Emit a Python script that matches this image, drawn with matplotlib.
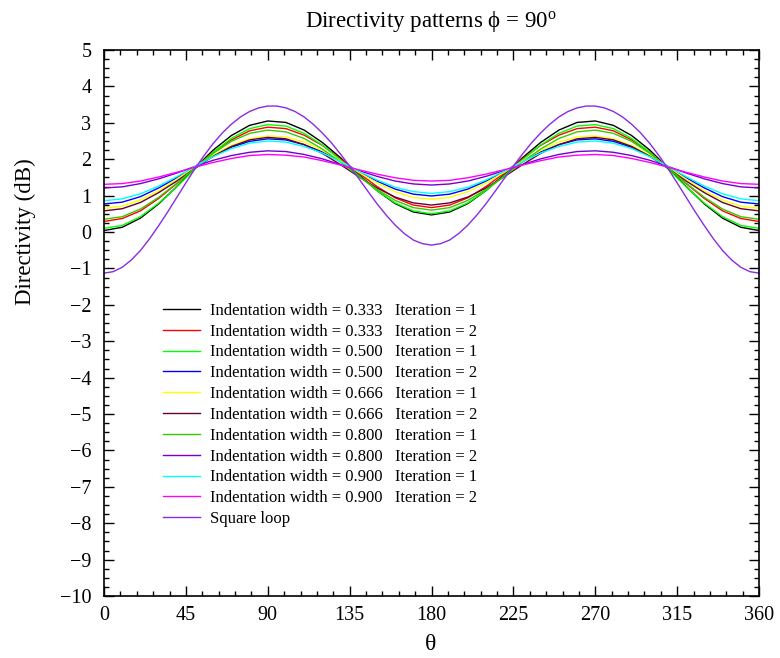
import numpy as np
import matplotlib
matplotlib.use('Agg')
import matplotlib.pyplot as plt
from matplotlib.ticker import MultipleLocator

theta = np.arange(0, 361, 10)
theta_sq = np.arange(0, 361, 5)

black = [0.04,0.13,0.38,0.77,1.25,1.76,2.25,2.65,2.93,3.05,3.01,2.80,2.46,2.04,1.58,1.14,0.78,0.55,0.47,0.55,0.78,1.14,1.58,2.04,2.46,2.80,3.01,3.05,2.93,2.65,2.25,1.76,1.25,0.77,0.38,0.13,0.04]
red = [0.29,0.37,0.58,0.92,1.33,1.77,2.19,2.53,2.78,2.88,2.84,2.66,2.38,2.01,1.62,1.25,0.94,0.74,0.67,0.74,0.94,1.25,1.62,2.01,2.38,2.66,2.84,2.88,2.78,2.53,2.19,1.77,1.33,0.92,0.58,0.37,0.29]
green = [0.10,0.18,0.42,0.79,1.24,1.73,2.19,2.57,2.84,2.95,2.91,2.71,2.39,1.98,1.55,1.14,0.80,0.58,0.50,0.58,0.80,1.14,1.55,1.98,2.39,2.71,2.91,2.95,2.84,2.57,2.19,1.73,1.24,0.79,0.42,0.18,0.10]
blue = [0.77,0.82,0.97,1.21,1.49,1.80,2.09,2.33,2.49,2.56,2.53,2.40,2.20,1.94,1.66,1.40,1.18,1.04,0.99,1.04,1.18,1.40,1.66,1.94,2.20,2.40,2.53,2.56,2.49,2.33,2.09,1.80,1.49,1.21,0.97,0.82,0.77]
yellow = [0.65,0.71,0.88,1.13,1.45,1.79,2.11,2.38,2.56,2.64,2.61,2.47,2.24,1.95,1.64,1.35,1.11,0.95,0.90,0.95,1.11,1.35,1.64,1.95,2.24,2.47,2.61,2.64,2.56,2.38,2.11,1.79,1.45,1.13,0.88,0.71,0.65]
maroon = [0.58,0.64,0.81,1.08,1.40,1.75,2.08,2.35,2.53,2.60,2.56,2.40,2.16,1.85,1.52,1.21,0.96,0.80,0.74,0.80,0.96,1.21,1.52,1.85,2.16,2.40,2.56,2.60,2.53,2.35,2.08,1.75,1.40,1.08,0.81,0.64,0.58]
olive = [0.35,0.42,0.63,0.95,1.34,1.76,2.16,2.49,2.71,2.80,2.75,2.57,2.28,1.92,1.53,1.17,0.87,0.67,0.60,0.67,0.87,1.17,1.53,1.92,2.28,2.57,2.75,2.80,2.71,2.49,2.16,1.76,1.34,0.95,0.63,0.42,0.35]
purple = [1.21,1.24,1.33,1.46,1.62,1.80,1.97,2.10,2.19,2.23,2.21,2.13,2.01,1.85,1.69,1.53,1.40,1.32,1.29,1.32,1.40,1.53,1.69,1.85,2.01,2.13,2.21,2.23,2.19,2.10,1.97,1.80,1.62,1.46,1.33,1.24,1.21]
cyan = [0.86,0.91,1.05,1.26,1.52,1.80,2.07,2.29,2.44,2.50,2.47,2.35,2.17,1.93,1.67,1.43,1.23,1.11,1.06,1.11,1.23,1.43,1.67,1.93,2.17,2.35,2.47,2.50,2.44,2.29,2.07,1.80,1.52,1.26,1.05,0.91,0.86]
magenta = [1.31,1.33,1.40,1.51,1.64,1.78,1.91,2.02,2.10,2.13,2.11,2.06,1.96,1.84,1.71,1.59,1.49,1.42,1.40,1.42,1.49,1.59,1.71,1.84,1.96,2.06,2.11,2.13,2.10,2.02,1.91,1.78,1.64,1.51,1.40,1.33,1.31]
square = [-1.13,-1.09,-0.97,-0.77,-0.51,-0.19,0.17,0.55,0.95,1.35,1.74,2.10,2.43,2.72,2.96,3.16,3.31,3.41,3.46,3.46,3.41,3.31,3.16,2.96,2.72,2.45,2.14,1.81,1.47,1.12,0.78,0.47,0.19,-0.04,-0.22,-0.32,-0.36,
          -0.32,-0.22,-0.04,0.19,0.47,0.78,1.12,1.47,1.81,2.14,2.45,2.72,2.96,3.16,3.31,3.41,3.46,3.46,3.41,3.31,3.16,2.96,2.72,2.43,2.10,1.74,1.35,0.95,0.55,0.17,-0.19,-0.51,-0.77,-0.97,-1.09,-1.13]

widths = ["0.333", "0.333", "0.500", "0.500", "0.666", "0.666", "0.800", "0.800", "0.900", "0.900"]
iterations = [1, 2, 1, 2, 1, 2, 1, 2, 1, 2]
series = [black, red, green, blue, yellow, maroon, olive, purple, cyan, magenta]
colors = ['#000000', '#ff0000', '#00ff00', '#0000ff', '#ffff00', '#660033',
          '#33cc00', '#7700cc', '#00ffff', '#ff00ff']
square_color = '#8a2be2'

plt.rcParams['font.family'] = ['Liberation Serif', 'DejaVu Serif']
plt.rcParams['mathtext.fontset'] = 'custom'
plt.rcParams['mathtext.rm'] = 'Liberation Serif'
plt.rcParams['mathtext.it'] = 'Liberation Serif:italic'

fig = plt.figure(figsize=(7.8, 6.58), dpi=100)
ax = fig.add_axes([104/780, 1 - 596/658, 655/780, 546/658])

for vals, col, w, it in zip(series, colors, widths, iterations):
    ax.plot(theta, vals, color=col, lw=1.0,
            label=f"Indentation width = {w}   Iteration = {it}")
ax.plot(theta_sq, square, color=square_color, lw=1.0, label="Square loop")

ax.set_xlim(0, 360)
ax.set_ylim(-10, 5)
ax.xaxis.set_major_locator(MultipleLocator(45))
ax.xaxis.set_minor_locator(MultipleLocator(9))
ax.yaxis.set_major_locator(MultipleLocator(1))
ax.yaxis.set_minor_locator(MultipleLocator(0.25))
ax.tick_params(which='both', direction='in', top=True, right=True, labelsize=14.5, width=1.0)
ax.tick_params(which='major', length=7)
ax.tick_params(which='minor', length=3.5)
ax.tick_params(axis='y', pad=9)
ax.tick_params(axis='x', pad=7)
for s in ax.spines.values():
    s.set_linewidth(1.2)

fig.text(431/780, 1 - 645/658, "θ", fontsize=17, ha='center', va='center')
fig.text(25/780, 1 - 232/658, "Directivity (dB)", fontsize=16.5, rotation=90,
         ha='center', va='center')
fig.text(431/780, 1 - 21/658, "Directivity patterns ϕ = 90$^{\\mathrm{o}}$",
         fontsize=16.5, ha='center', va='center')

ax.legend(loc='upper left', bbox_to_anchor=(0.09, 0.537), frameon=False,
          fontsize=12, handlelength=2.2, handletextpad=0.6,
          labelspacing=0.29, borderaxespad=0, borderpad=0)

fig.savefig("out.png", dpi=100)
